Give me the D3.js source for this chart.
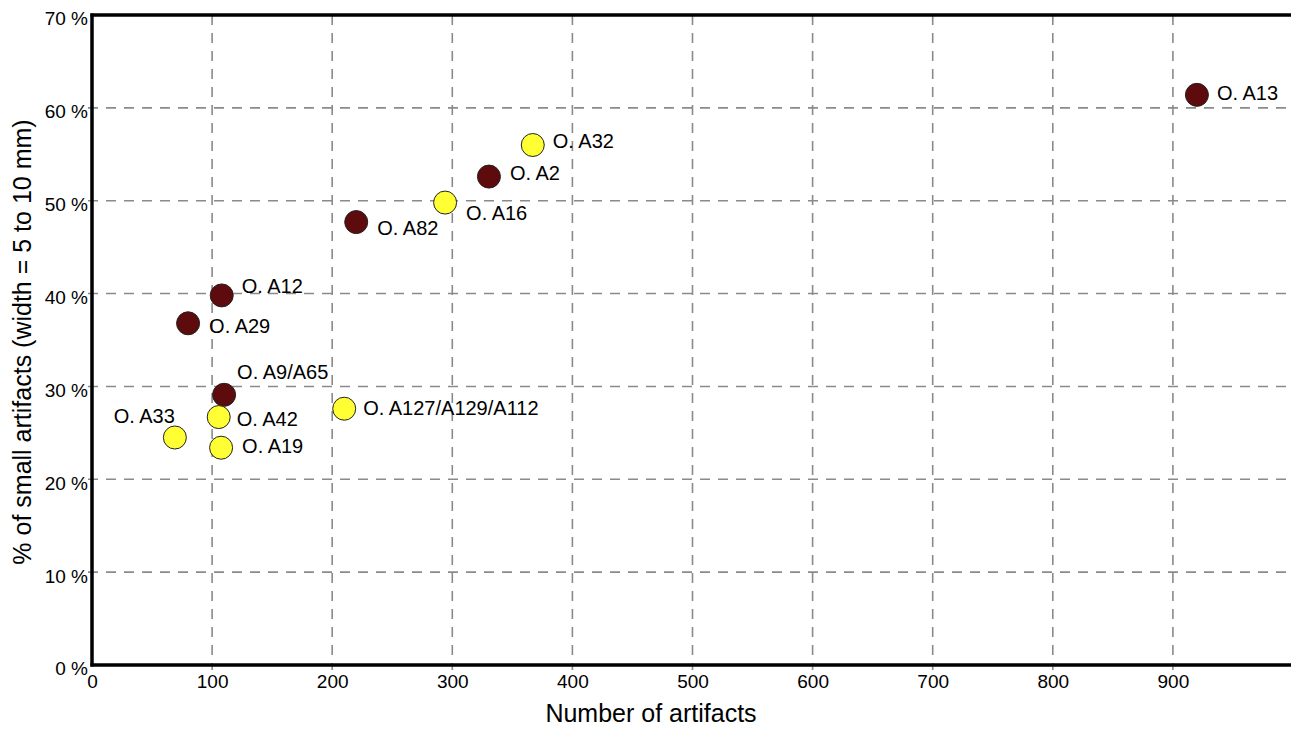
<!DOCTYPE html>
<html>
<head>
<meta charset="utf-8">
<script src="https://cdn.jsdelivr.net/npm/d3@7"></script>
<style>
  html, body { margin: 0; padding: 0; background: #fff; }
  svg { display: block; font-family: "Liberation Sans", Arial, sans-serif; }
</style>
</head>
<body>
<svg id="chart" width="1291" height="729"></svg>
<script>
// ---- data ----
const sites = ["O. A13", "O. A32", "O. A2", "O. A16", "O. A82", "O. A12", "O. A29",
               "O. A9/A65", "O. A127/A129/A112", "O. A42", "O. A33", "O. A19"];
const artifactCounts = [920, 367, 330.5, 294, 220, 108, 80, 110, 210, 105.5, 69, 107.5];
const smallPercent   = [61.4, 56.0, 52.6, 49.8, 47.7, 39.8, 36.8, 29.1, 27.6, 26.7, 24.5, 23.4];
const group          = ["dark", "light", "dark", "light", "dark", "dark", "dark",
                        "dark", "light", "light", "light", "light"];
const xTicks = [0, 100, 200, 300, 400, 500, 600, 700, 800, 900];
const yTicks = [0, 10, 20, 30, 40, 50, 60, 70];
const xTitle = "Number of artifacts";
const yTitle = "% of small artifacts (width = 5 to 10 mm)";

// ---- layout / style (not data) ----
const labelOffsets = [
  [20, 5, "start"], [20, 3, "start"], [21, 3, "start"], [21, 17, "start"],
  [21, 13, "start"], [20, -2, "start"], [21, 10, "start"], [13, -16, "start"],
  [19, 6, "start"], [18, 9, "start"], [0, -15, "end"], [21, 5, "start"]
];
const colors = { dark: "#5e0b0d", light: "#ffff33" };

(function () {
const svg = d3.select("#chart");
const mLeft = 92, mTop = 15, mBottom = 665;
const x = d3.scaleLinear().domain([0, 1000]).range([mLeft, mLeft + 1201]);
const y = d3.scaleLinear().domain([0, 70]).range([mBottom, mTop]);

// grid
const grid = svg.append("g").attr("stroke", "#8a8a8a").attr("stroke-width", 1.6)
  .attr("stroke-dasharray", "10,8");
grid.selectAll("line.v").data(xTicks.filter(d => d > 0)).join("line").attr("class", "v")
  .attr("x1", d => x(d)).attr("x2", d => x(d))
  .attr("y1", mTop).attr("y2", mBottom + 5);
grid.selectAll("line.h").data(yTicks.filter(d => d > 0 && d < 70)).join("line").attr("class", "h")
  .attr("x1", mLeft - 4).attr("x2", 1291)
  .attr("y1", d => y(d)).attr("y2", d => y(d));

// axes
const xAxis = d3.axisBottom(x).tickValues(xTicks).tickSize(0).tickPadding(8);
const yAxis = d3.axisLeft(y).tickValues(yTicks).tickSize(0).tickPadding(4)
  .tickFormat(d => d + " %");
const gx = svg.append("g").attr("transform", `translate(0,${mBottom})`).call(xAxis);
const gy = svg.append("g").attr("transform", `translate(${mLeft},0)`).call(yAxis);
[gx, gy].forEach(g => {
  g.select(".domain").remove();
  g.selectAll("text").style("font-size", "19px").attr("fill", "#000")
    .style("font-family", "'Liberation Sans', Arial, sans-serif");
});
gy.selectAll("text").attr("dy", "0.52em");
gx.selectAll("text").attr("dy", "0.78em");

// frame lines
svg.append("line").attr("x1", mLeft).attr("x2", mLeft).attr("y1", mTop - 1.5).attr("y2", mBottom + 1.5)
  .attr("stroke", "#000").attr("stroke-width", 3.5);
svg.append("line").attr("x1", mLeft - 1.5).attr("x2", 1291).attr("y1", mBottom).attr("y2", mBottom)
  .attr("stroke", "#000").attr("stroke-width", 3.5);
svg.append("line").attr("x1", mLeft - 1.5).attr("x2", 1291).attr("y1", mTop).attr("y2", mTop)
  .attr("stroke", "#000").attr("stroke-width", 3.5);

// points
const pts = sites.map((s, i) => ({ s, xv: artifactCounts[i], yv: smallPercent[i], g: group[i], off: labelOffsets[i] }));
svg.append("g").selectAll("circle").data(pts).join("circle")
  .attr("cx", d => x(d.xv)).attr("cy", d => y(d.yv)).attr("r", 11.5)
  .attr("fill", d => colors[d.g]).attr("stroke", "#222").attr("stroke-width", 1);

svg.append("g").selectAll("text").data(pts).join("text")
  .attr("x", d => x(d.xv) + d.off[0]).attr("y", d => y(d.yv) + d.off[1])
  .attr("text-anchor", d => d.off[2])
  .attr("font-size", 20).attr("fill", "#000").text(d => d.s);

// titles
svg.append("text").attr("x", 651).attr("y", 722).attr("text-anchor", "middle")
  .attr("font-size", 25).attr("fill", "#000").text(xTitle);
svg.append("text").attr("transform", "translate(31,342) rotate(-90)").attr("text-anchor", "middle")
  .attr("font-size", 25).attr("fill", "#000").text(yTitle);
})();
</script>
</body>
</html>
